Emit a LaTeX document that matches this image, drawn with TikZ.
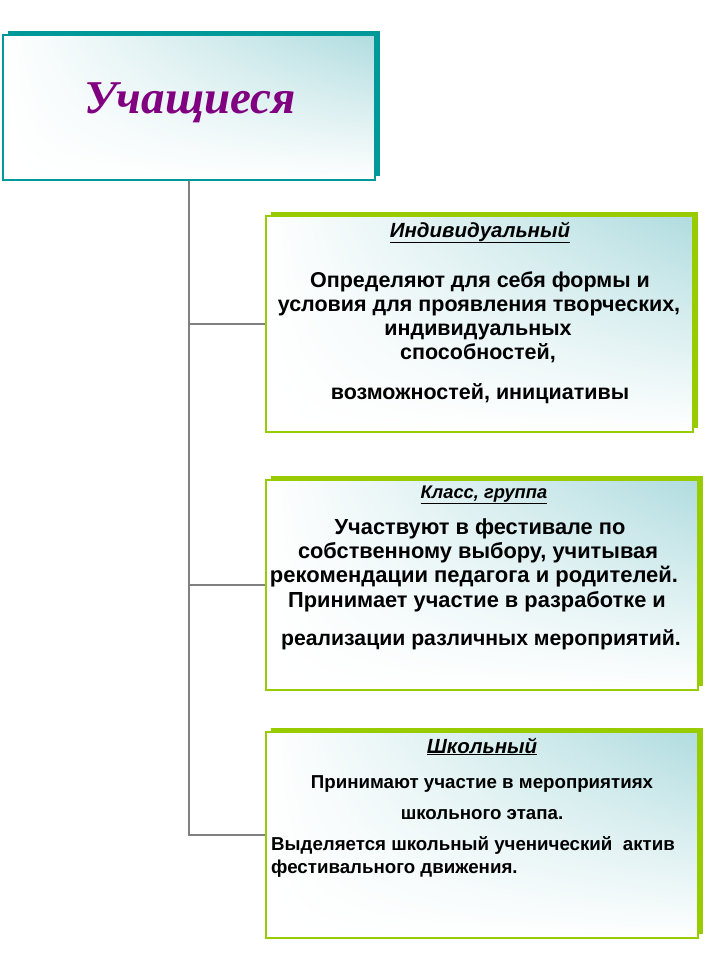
\documentclass[tikz,border=0pt]{standalone}
\usepackage{fontspec}
\usetikzlibrary{shadings}
\setmainfont{Liberation Sans}
\newfontfamily\titlefont{Liberation Serif}
\definecolor{tealshadow}{HTML}{009999}
\definecolor{greenshadow}{HTML}{99CC00}
\definecolor{gradteal}{HTML}{B0DCDF}
\definecolor{linegray}{HTML}{808080}
\definecolor{titlepurple}{HTML}{800080}
\tikzset{
  boxnode/.style={rectangle, anchor=north west, inner sep=0pt, outer sep=0pt},
  conn/.style={draw=linegray, line width=2.8pt},
  bodytext/.style={anchor=base, inner sep=0pt, font=\bfseries\fontsize{21.5}{24}\selectfont},
  midtext/.style={anchor=base, inner sep=0pt, font=\bfseries\fontsize{#1}{24}\selectfont},
  smalltext/.style={anchor=base, inner sep=0pt, font=\bfseries\fontsize{18.7}{21}\selectfont},
  headtext/.style={anchor=base, inner sep=0pt, font=\bfseries\itshape\fontsize{#1}{20}\selectfont},
}
\newcommand{\boxshade}[3]{%
  \fill[#3] ([xshift=5pt,yshift=4pt]#1.north west) rectangle ([xshift=5pt,yshift=4pt]#1.south east);
  \shade[upper right=gradteal, upper left=white, lower left=white, lower right=white]
     (#1.north west) rectangle (#1.south east);
  \draw[#2, line width=1.2pt] (#1.north west) rectangle (#1.south east);
}
\begin{document}
\begin{tikzpicture}[x=1pt,y=-1pt]
\useasboundingbox[fill=white] (0,0) rectangle (706,972);
% box frames (invisible nodes)
\node[boxnode, minimum width=372pt, minimum height=145pt] (top) at (3,35) {};
\node[boxnode, minimum width=427pt, minimum height=216pt] (b1) at (266,216) {};
\node[boxnode, minimum width=432pt, minimum height=210pt] (b2) at (266,480) {};
\node[boxnode, minimum width=432pt, minimum height=206pt] (b3) at (266,732) {};
% connectors
\draw[conn] (top.south) |- (b3.west);
\draw[conn] (top.south) |- (b1.west);
\draw[conn] (top.south) |- (b2.west);
% boxes
\boxshade{top}{tealshadow}{tealshadow}
\boxshade{b1}{greenshadow}{greenshadow}
\boxshade{b2}{greenshadow}{greenshadow}
\boxshade{b3}{greenshadow}{greenshadow}
% title
\node[anchor=base, inner sep=0pt, text=titlepurple, font=\titlefont\bfseries\itshape\fontsize{47}{50}\selectfont] (title) at (190,113) {Учащиеся};
% box 1
\node[headtext=20.5] (h1) at (480,237) {\underline{Индивидуальный}};
\node[bodytext] (l11) at (480,287) {Определяют для себя формы и};
\node[bodytext] (l12) at (479,311) {условия для проявления творческих,};
\node[bodytext] (l13) at (478,335) {индивидуальных};
\node[bodytext] (l14) at (478,359) {способностей,};
\node[bodytext] (l15) at (480,399) {возможностей, инициативы};
% box 2
\node[headtext=18.3] (h2) at (484,498) {\underline{Класс, группа}};
\node[midtext=21.8] (l21) at (480,534) {Участвуют в фестивале по};
\node[midtext=21.8] (l22) at (478,558) {собственному выбору, учитывая};
\node[midtext=22] (l23) at (474,582) {рекомендации педагога и родителей.};
\node[midtext=21.8] (l24) at (477,607) {Принимает участие в разработке и};
\node[midtext=21.2] (l25) at (481,645) {реализации различных мероприятий.};
% box 3
\node[headtext=20.5] (h3) at (482,753) {\underline{Школьный}};
\node[smalltext] (l31) at (482,788) {Принимают участие в мероприятиях};
\node[smalltext] (l32) at (482,819) {школьного этапа.};
\node[smalltext, anchor=base west] (l33) at (271,850) {Выделяется школьный ученический\ \ актив};
\node[smalltext, anchor=base west] (l34) at (271,873) {фестивального движения.};
\end{tikzpicture}
\end{document}
